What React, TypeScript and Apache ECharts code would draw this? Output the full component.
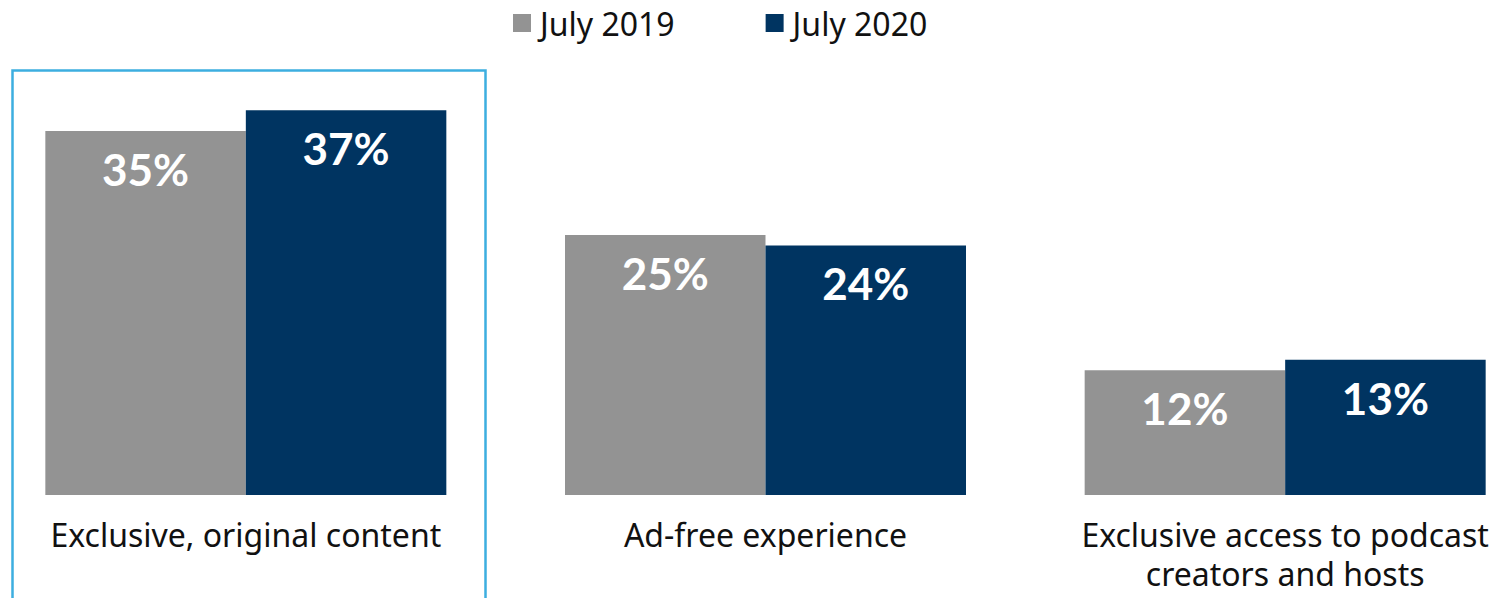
import React, { useEffect, useRef } from "react";
import * as echarts from "echarts";

const categories = [
  "Exclusive, original content",
  "Ad-free experience",
  "Exclusive access to podcast\ncreators and hosts",
];
const seriesNames = ["July 2019", "July 2020"];
const july2019 = [35, 25, 12];
const july2020 = [37, 24, 13];
const colors = ["#939393", "#003461"];

export default function App() {
  const ref = useRef<HTMLDivElement>(null);
  useEffect(() => {
    if (!ref.current) return;
    const chart = echarts.init(ref.current, null, { renderer: "svg" });
    const labelStyle = {
      show: true,
      position: "insideTop",
      distance: 16,
      color: "#ffffff",
      fontFamily: "Lato",
      fontWeight: "bold",
      fontSize: 44,
      formatter: "{c}%",
    };
    chart.setOption({
      animation: false,
      backgroundColor: "#ffffff",
      legend: {
        top: 2,
        left: 508,
        itemWidth: 18,
        itemHeight: 18,
        itemGap: 91,
        icon: "rect",
        textStyle: {
          fontFamily: "Noto Sans",
          fontSize: 32,
          color: "#111111",
          padding: [0, 0, 0, 4],
        },
        data: seriesNames,
      },
      grid: { left: -14, width: 1559, top: 79, height: 416, outerBoundsMode: "none", containLabel: false },
      xAxis: {
        type: "category",
        data: categories,
        axisLine: { show: false },
        axisTick: { show: false },
        axisLabel: {
          interval: 0,
          margin: 20,
          fontFamily: "Noto Sans",
          fontSize: 32,
          lineHeight: 39,
          color: "#111111",
        },
      },
      yAxis: { type: "value", min: 0, max: 40, show: false, splitLine: { show: false } },
      graphic: [
        {
          type: "rect",
          shape: { x: 12.5, y: 70.5, width: 473, height: 560 },
          style: { fill: "none", stroke: "#3DAEE0", lineWidth: 2.5 },
          z: 10,
        },
      ],
      series: [
        {
          name: seriesNames[0],
          type: "bar",
          data: july2019,
          barWidth: 200.5,
          barGap: "0%",
          itemStyle: { color: colors[0] },
          label: labelStyle,
        },
        {
          name: seriesNames[1],
          type: "bar",
          data: july2020,
          barWidth: 200.5,
          barGap: "0%",
          itemStyle: { color: colors[1] },
          label: labelStyle,
        },
      ],
    });
    return () => chart.dispose();
  }, []);
  return (
    <div
      ref={ref}
      style={{ position: "fixed", left: 0, top: 0, width: 1511, height: 598 }}
    />
  );
}
